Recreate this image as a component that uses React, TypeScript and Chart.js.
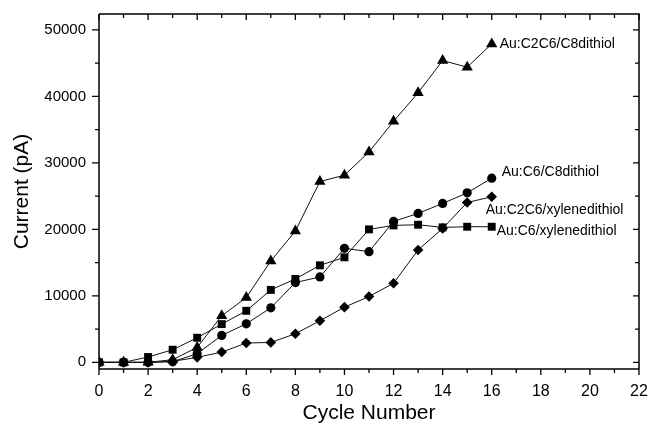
import React, { useEffect, useRef } from "react";
import { Chart, registerables } from "chart.js";

Chart.register(...registerables);

const cycles = [0, 1, 2, 3, 4, 5, 6, 7, 8, 9, 10, 11, 12, 13, 14, 15, 16];
const c2c6C8dithiol = [0, 0, 0, 400, 2250, 7000, 9750, 15250, 19750, 27200, 28150, 31650, 36250, 40550, 45400, 44400, 47900];
const c6C8dithiol = [0, 0, 0, 100, 1300, 4050, 5800, 8200, 12000, 12850, 17150, 16650, 21200, 22400, 23900, 25500, 27700];
const c2c6Xylene = [0, 0, 0, 150, 750, 1550, 2900, 3000, 4300, 6250, 8300, 9900, 11900, 16900, 20150, 24050, 24900];
const c6Xylene = [0, 0, 800, 1900, 3700, 5750, 7750, 10900, 12550, 14600, 15800, 20000, 20600, 20700, 20300, 20400, 20400];

const xTickLabels = [0, 2, 4, 6, 8, 10, 12, 14, 16, 18, 20, 22];
const yTickLabels = [0, 10000, 20000, 30000, 40000, 50000];

const FONT = "'Liberation Sans', Arial, Helvetica, sans-serif";

const framePlugin = {
  id: "frameTicks",
  afterDraw(chart: any) {
    const { ctx, chartArea, scales } = chart;
    const xs = scales.x;
    const ys = scales.y;
    const { left, right, top, bottom } = chartArea;
    ctx.save();
    ctx.strokeStyle = "#000";
    ctx.lineWidth = 1.5;
    ctx.beginPath();
    ctx.moveTo(left, top);
    ctx.lineTo(right, top);
    ctx.lineTo(right, bottom);
    ctx.moveTo(left, bottom);
    ctx.lineTo(left, top);
    ctx.moveTo(left, bottom);
    ctx.lineTo(right, bottom);
    ctx.stroke();
    ctx.lineWidth = 1.3;
    ctx.beginPath();
    for (let v = 0; v <= 22; v += 1) {
      const px = xs.getPixelForValue(v);
      const major = v % 2 === 0;
      ctx.moveTo(px, bottom);
      ctx.lineTo(px, bottom + (major ? 6 : 4));
      ctx.moveTo(px, top);
      ctx.lineTo(px, top + (major ? 6 : 4));
    }
    for (let v = 0; v <= 50000; v += 5000) {
      const py = ys.getPixelForValue(v);
      const major = v % 10000 === 0;
      ctx.moveTo(left, py);
      ctx.lineTo(left - (major ? 7 : 4), py);
      ctx.moveTo(right, py);
      ctx.lineTo(right - (major ? 6 : 4), py);
    }
    ctx.stroke();

    ctx.fillStyle = "#000";
    ctx.font = `14px ${FONT}`;
    ctx.textBaseline = "middle";
    ctx.textAlign = "left";
    chart.data.datasets.forEach((ds: any, i: number) => {
      const meta = chart.getDatasetMeta(i);
      const pt = meta.data[meta.data.length - 1];
      if (!pt || !ds.endLabel) return;
      ctx.fillText(ds.endLabel.text, pt.x + ds.endLabel.dx, pt.y + ds.endLabel.dy);
    });
    ctx.restore();
  },
};

export default function App() {
  const ref = useRef<HTMLCanvasElement>(null);
  useEffect(() => {
    document.body.style.margin = "0";
    const common = {
      borderColor: "#111",
      backgroundColor: "#000",
      pointBackgroundColor: "#000",
      pointBorderColor: "#000",
      borderWidth: 1,
      pointBorderWidth: 0,
      tension: 0,
    };
    const chart = new Chart(ref.current!, {
      type: "line",
      data: {
        labels: cycles,
        datasets: [
          {
            ...common,
            label: "Au:C2C6/C8dithiol",
            data: c2c6C8dithiol,
            pointStyle: "triangle",
            pointRadius: 6.5,
            endLabel: { text: "Au:C2C6/C8dithiol", dx: 8, dy: 0 },
          } as any,
          {
            ...common,
            label: "Au:C6/C8dithiol",
            data: c6C8dithiol,
            pointStyle: "circle",
            pointRadius: 4.6,
            endLabel: { text: "Au:C6/C8dithiol", dx: 10, dy: -6 },
          } as any,
          {
            ...common,
            label: "Au:C2C6/xylenedithiol",
            data: c2c6Xylene,
            pointStyle: "rectRot",
            pointRadius: 5.3,
            endLabel: { text: "Au:C2C6/xylenedithiol", dx: -6, dy: 13 },
          } as any,
          {
            ...common,
            label: "Au:C6/xylenedithiol",
            data: c6Xylene,
            pointStyle: "rect",
            pointRadius: 5.6,
            endLabel: { text: "Au:C6/xylenedithiol", dx: 5, dy: 4 },
          } as any,
        ],
      },
      options: {
        animation: false,
        responsive: false,
        layout: { padding: { top: 14, right: 12, left: 6, bottom: 0 } },
        plugins: { legend: { display: false }, tooltip: { enabled: false } },
        scales: {
          x: {
            type: "linear",
            min: 0,
            max: 22,
            grid: { display: false, drawTicks: false },
            border: { display: false },
            afterBuildTicks: (s: any) => {
              s.ticks = xTickLabels.map((v) => ({ value: v }));
            },
            afterFit: (s: any) => {
              s.height = 57;
              s.paddingLeft = 0;
              s.paddingRight = 0;
            },
            ticks: {
              color: "#000",
              padding: 13,
              maxRotation: 0,
              autoSkip: false,
              font: { family: FONT, size: 16 },
              callback: (v: any) => String(v),
            },
            title: {
              display: true,
              text: "Cycle Number",
              color: "#000",
              padding: 0,
              font: { family: FONT, size: 21 },
            },
          },
          y: {
            type: "linear",
            min: -1000,
            max: 52400,
            grid: { display: false, drawTicks: false },
            border: { display: false },
            afterBuildTicks: (s: any) => {
              s.ticks = yTickLabels.map((v) => ({ value: v }));
            },
            afterFit: (s: any) => {
              s.width = 93;
              s.paddingTop = 0;
              s.paddingBottom = 0;
            },
            ticks: {
              color: "#000",
              padding: 13,
              autoSkip: false,
              font: { family: FONT, size: 15 },
              callback: (v: any) => String(v),
            },
            title: {
              display: true,
              text: "Current (pA)",
              color: "#000",
              padding: 4,
              font: { family: FONT, size: 21 },
            },
          },
        },
      },
      plugins: [framePlugin],
    });
    return () => chart.destroy();
  }, []);
  return (
    <div style={{ width: 651, height: 426, background: "#fff" }}>
      <canvas ref={ref} width={651} height={426} />
    </div>
  );
}
